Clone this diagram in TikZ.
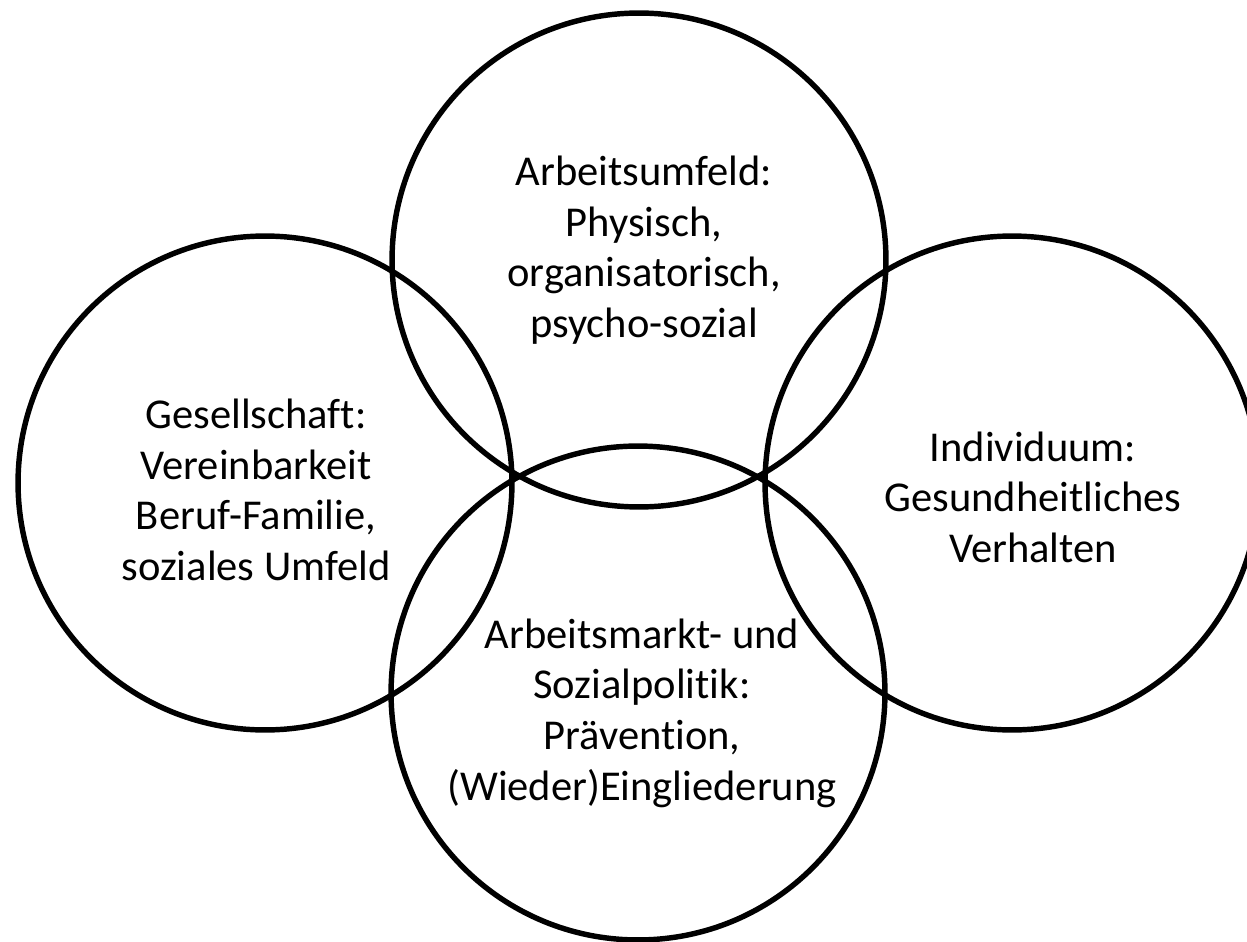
\documentclass[tikz,border=0pt]{standalone}
\usepackage{fontspec}
\setmainfont{Carlito}[Ligatures=NoCommon]
\definecolor{ringblack}{RGB}{0,0,0}

\begin{document}
\begin{tikzpicture}[x=0.02cm,y=-0.02cm,
  ring/.style={circle,draw=ringblack,line width=3.1pt,minimum size=9.88cm,inner sep=0pt},
  ringtext/.style={align=center,font=\fontsize{24.2}{28.8}\selectfont,inner sep=0pt}]
\useasboundingbox (0,0) rectangle (1247,942);
\clip (0,0) rectangle (1247,942); %The right circle runs past the edge
\node[ring] (arbeit) at (639,260) {}; %Top
\node[ring] (gesell) at (265,483) {}; %Left
\node[ring] (indiv) at (1012,483) {}; %Right
\node[ring] (politik) at (638,693) {}; %Bottom
\node[ringtext] (arbeittext) at (644,250) {Arbeitsumfeld:\\Physisch,\\organisatorisch,\\psycho-sozial};
\node[ringtext] (geselltext) at (256,490) {Gesellschaft:\\Vereinbarkeit\\Beruf-Familie,\\soziales Umfeld};
\node[ringtext] (indivtext) at (1033,497) {Individuum:\\Gesundheitliches\\Verhalten};
\node[ringtext] (politiktext) at (642,713) {Arbeitsmarkt- und\\Sozialpolitik:\\Prävention,\\(Wieder)Eingliederung};
\end{tikzpicture}
\end{document}
